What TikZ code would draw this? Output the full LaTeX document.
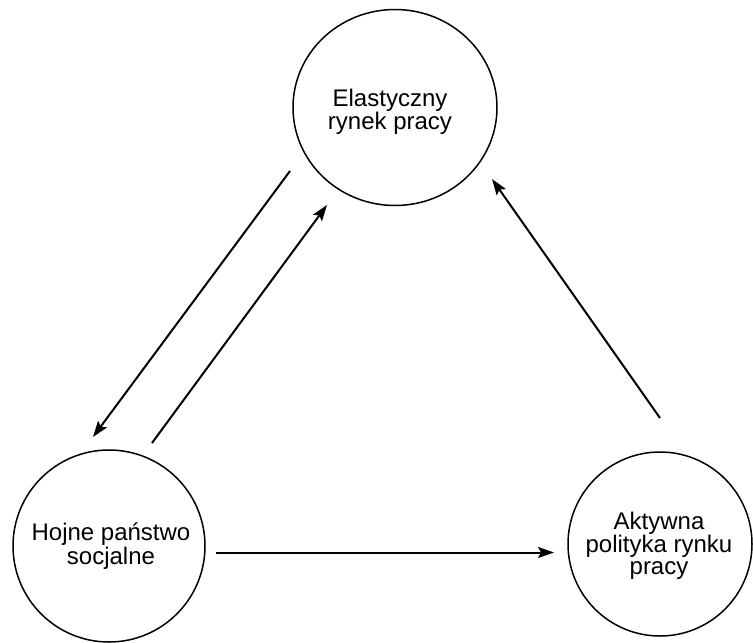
\documentclass[tikz,border=0pt]{standalone}
\usepackage{fontspec}
\setmainfont{Liberation Sans}
\usetikzlibrary{shapes.geometric,arrows.meta}
\begin{document}
\begin{tikzpicture}[x=1pt,y=-1pt,
  blob/.style={draw, ellipse, line width=1.5pt, inner sep=0pt},
  blobtext/.style={align=center, inner sep=0pt, font=\fontsize{24}{22}\selectfont},
  flow/.style={line width=2pt, -{Stealth[length=16pt,width=11pt,inset=3pt]}}]
\useasboundingbox (0,0) rectangle (753,643);
\node[blob, minimum width=204pt, minimum height=196pt] (top) at (395,107.5) {};
\node[blobtext] (toptext) at (390,112) {Elastyczny\\rynek pracy};
\node[blob, minimum width=192pt, minimum height=192pt] (left) at (109,546) {};
\node[blobtext] (lefttext) at (111,546) {Hojne państwo\\socjalne};
\node[blob, minimum width=184pt, minimum height=184pt] (right) at (660,544) {};
\node[blobtext] (righttext) at (659,546) {Aktywna\\polityka rynku\\pracy};
\coordinate (a1s) at (290,171);
\coordinate (a1e) at (93,437);
\coordinate (a2s) at (152,443);
\coordinate (a2e) at (327,205);
\coordinate (a3s) at (660,418);
\coordinate (a3e) at (492,179);
\coordinate (a4s) at (216,552.5);
\coordinate (a4e) at (554,552.5);
\draw[flow] (a1s) -- (a1e);
\draw[flow] (a2s) -- (a2e);
\draw[flow] (a3s) -- (a3e);
\draw[flow] (a4s) -- (a4e);
\end{tikzpicture}
\end{document}
